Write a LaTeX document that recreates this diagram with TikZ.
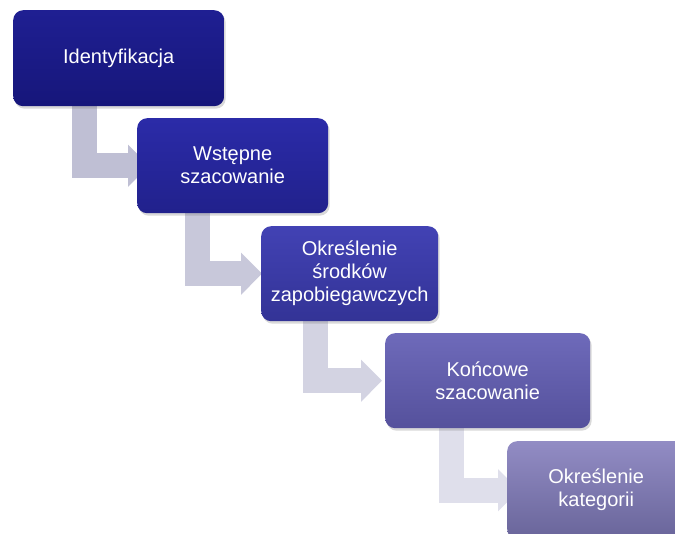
\documentclass[tikz,border=0pt]{standalone}
\usepackage{fontspec}
\setmainfont{Liberation Sans}
\usepackage{xcolor}
\usepackage{tikz}
\usetikzlibrary{calc,shadows,arrows.meta,positioning,backgrounds}
\definecolor{RSStepATop}{HTML}{1F1F92}
\definecolor{RSStepABot}{HTML}{16167A}
\definecolor{RSStepBTop}{HTML}{2B2BA8}
\definecolor{RSStepBBot}{HTML}{21218C}
\definecolor{RSStepCTop}{HTML}{4242B4}
\definecolor{RSStepCBot}{HTML}{333396}
\definecolor{RSStepDTop}{HTML}{6E6ABA}
\definecolor{RSStepDBot}{HTML}{55519C}
\definecolor{RSStepETop}{HTML}{928CC4}
\definecolor{RSStepEBot}{HTML}{69659A}
\definecolor{RSArrowA}{HTML}{BFBFD4}
\definecolor{RSArrowB}{HTML}{C8C8DA}
\definecolor{RSArrowC}{HTML}{D3D3E2}
\definecolor{RSArrowD}{HTML}{DFDFEB}
\tikzset{
  stepbox/.style={
    anchor=north west, rounded corners=10pt, text=white,
    align=center, inner sep=4pt, minimum height=95pt,
    font=\fontsize{20}{23}\selectfont,
    drop shadow={opacity=0.3, shadow xshift=1.5pt, shadow yshift=-2.5pt}
  },
  arrowbar/.style={
    line width=25pt, line join=miter,
    -{Triangle[width=41pt, length=21pt]}
  }
}

\begin{document}
\begin{tikzpicture}[x=1pt, y=-1pt]
\useasboundingbox (0,0) rectangle (675,534);
\clip (0,0) rectangle (675,534);

% kroki
\node[stepbox, top color=RSStepATop, bottom color=RSStepABot,
  minimum width=211pt, minimum height=96pt] (ident) at (13,10) {Identyfikacja};
\node[stepbox, top color=RSStepBTop, bottom color=RSStepBBot,
  minimum width=191pt] (wstepne) at (137,118) {Wstępne\\szacowanie};
\node[stepbox, top color=RSStepCTop, bottom color=RSStepCBot,
  minimum width=177pt] (srodki) at (261,226) {Określenie\\środków\\zapobiegawczych};
\node[stepbox, top color=RSStepDTop, bottom color=RSStepDBot,
  minimum width=205pt] (koncowe) at (385,333) {Końcowe\\szacowanie};
\node[stepbox, top color=RSStepETop, bottom color=RSStepEBot,
  minimum width=178pt, minimum height=98pt] (kategoria) at (507,441) {Określenie\\kategorii};

% strzałki
\begin{scope}[on background layer]
\foreach \from/\to/\dx/\tip/\col in {ident/wstepne/71/12/RSArrowA,
    wstepne/srodki/60/1/RSArrowB, srodki/koncowe/54/-3/RSArrowC,
    koncowe/kategoria/66/12/RSArrowD}
  \draw[arrowbar, draw=\col]
    ([xshift=\dx pt, yshift=5pt]\from.south west) |- ([xshift=\tip pt]\to.west);
\end{scope}
\end{tikzpicture}
\end{document}
